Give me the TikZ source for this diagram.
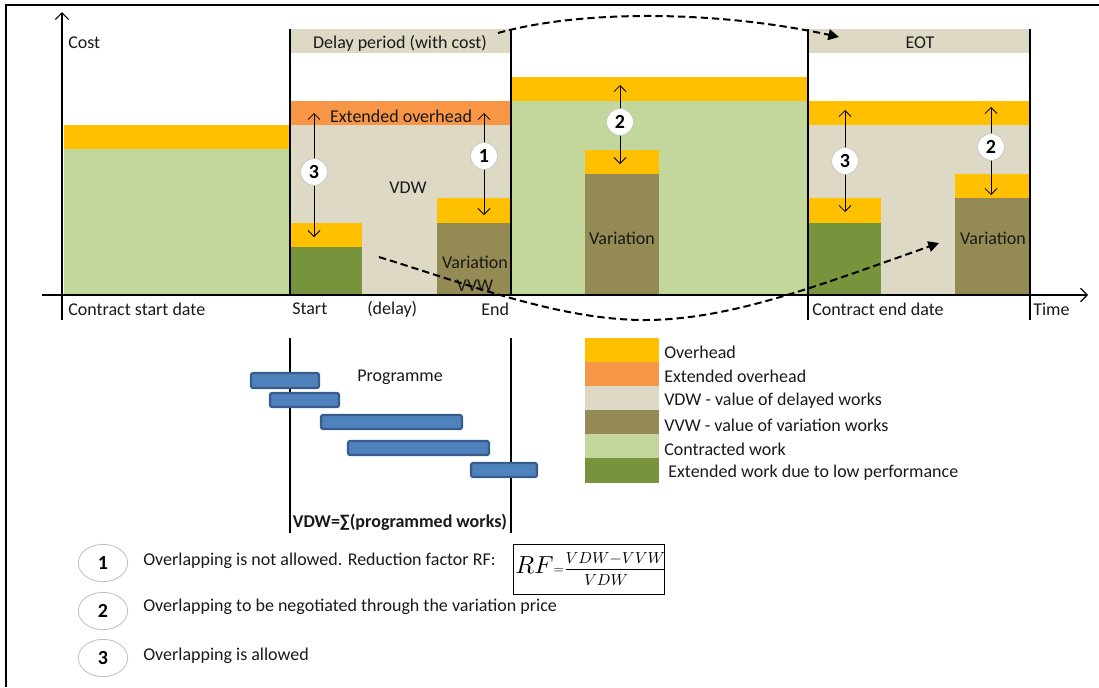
\documentclass[tikz,border=0pt]{standalone}
\usepackage{amsmath}
\usepackage{fontspec}
\setmainfont{Carlito}
\usetikzlibrary{arrows.meta,shapes.geometric}
\definecolor{ovh}{HTML}{FFC000}
\definecolor{extovh}{HTML}{F79646}
\definecolor{vdw}{HTML}{DDD9C4}
\definecolor{vvw}{HTML}{948A54}
\definecolor{contr}{HTML}{C3D69B}
\definecolor{extw}{HTML}{77933C}
\definecolor{barfill}{HTML}{4F81BD}
\definecolor{barline}{HTML}{385D8A}
\begin{document}
\begin{tikzpicture}[x=0.75pt,y=-0.75pt,
  lbl/.style={font=\fontsize{13.5}{15}\selectfont, inner sep=0pt, text=black!90},
  lblw/.style={lbl, anchor=west},
  thickline/.style={line width=2.2pt},
  axisline/.style={line width=0.9pt, -{Straight Barb[length=5pt,width=10pt]}},
  dbl/.style={line width=0.6pt, {Straight Barb[length=4.5pt,width=9pt]}-{Straight Barb[length=4.5pt,width=9pt]}},
  numc/.style={circle, draw=black!25, fill=white, minimum size=20pt, inner sep=0pt, font=\bfseries\fontsize{15}{15}\selectfont},
  nume/.style={ellipse, draw=black!25, line width=0.6pt, fill=white, minimum width=37pt, minimum height=28pt, inner sep=0pt, font=\bfseries\fontsize{15}{15}\selectfont},
  dashcurve/.style={line width=1.5pt, dash pattern=on 5.5pt off 3pt, -{Triangle[length=8pt,width=8pt]}},
  progbar/.style={draw=barline, fill=barfill, line width=1.6pt, rounded corners=1.5pt}
]
\useasboundingbox (0,0) rectangle (1099,687);
% frame (top and left)
\draw[line width=2.2pt] (6,687) -- (6,5) -- (1099,5);

% ---------- fills ----------
% contract section
\fill[ovh] (64,125) rectangle (290,149);
\fill[contr] (64,149) rectangle (290,295);
% delay section
\fill[vdw] (290,29) rectangle (511,53);
\fill[extovh] (290,101) rectangle (511,125);
\fill[vdw] (290,125) rectangle (511,295);
\fill[ovh] (290,223) rectangle (362,247);
\fill[extw] (290,247) rectangle (362,295);
\fill[ovh] (437,198) rectangle (511,223);
\fill[vvw] (437,223) rectangle (511,295);
% middle section
\fill[ovh] (511,77) rectangle (808,101);
\fill[contr] (511,101) rectangle (808,295);
\fill[ovh] (585,150) rectangle (659,174);
\fill[vvw] (585,174) rectangle (659,295);
% EOT section
\fill[vdw] (808,29) rectangle (1030,53);
\fill[ovh] (808,101) rectangle (1030,125);
\fill[vdw] (808,125) rectangle (1030,295);
\fill[ovh] (808,198) rectangle (881,223);
\fill[extw] (808,223) rectangle (881,295);
\fill[ovh] (955,174) rectangle (1030,198);
\fill[vvw] (955,198) rectangle (1030,295);

% ---------- axes ----------
\coordinate (yb) at (62,320);
\coordinate (yt) at (62,12);
\coordinate (xl) at (42,295);
\coordinate (xr) at (1088,295);
\draw[axisline] (yb) -- (yt);
\draw[axisline] (xl) -- (xr);

% ---------- vertical lines ----------
\coordinate (s1) at (290,29); \coordinate (s2) at (290,296);
\coordinate (e1) at (511,29); \coordinate (e2) at (511,296);
\coordinate (c1) at (808,29); \coordinate (c2) at (808,320);
\coordinate (t1) at (1030,29); \coordinate (t2) at (1030,320);
\draw[thickline] (s1) -- (s2);
\draw[thickline] (e1) -- (e2);
\draw[thickline] (c1) -- (c2);
\draw[thickline] (t1) -- (t2);

% ---------- texts in chart ----------
\node[lblw] (cost) at (68,43) {Cost};
\node[lbl] (delayp) at (400,43) {Delay period (with cost)};
\node[lbl] (eot) at (920,43) {EOT};
\node[lbl] (extov) at (401,116) {Extended overhead};
\node[lbl] (vdwt) at (408,188) {VDW};
\node[lbl] (var1) at (475,262) {Variation};
\node[lbl] (vvwt) at (475,286) {VVW};
\node[lbl] (var2) at (622,238) {Variation};
\node[lbl] (var3) at (993,238) {Variation};
\node[lblw] (csd) at (68,309) {Contract start date};
\node[lblw] (st) at (292,309) {Start};
\node[lblw] (dl) at (367,309) {(delay)};
\node[lblw] (en) at (481,309) {End};
\node[lblw] (ced) at (812,309) {Contract end date};
\node[lblw] (tm) at (1033,309) {Time};

% ---------- dashed curves ----------
\coordinate (d1s) at (498,33);
\coordinate (d1e) at (839,37);
\draw[dashcurve] (d1s) .. controls (580,10) and (715,10) .. (d1e);
\coordinate (d2s) at (379,257);
\coordinate (d2m) at (645,320);
\coordinate (d2e) at (939,243);
\draw[dashcurve] (d2s) .. controls (470,285) and (560,320) .. (d2m) .. controls (730,320) and (820,285) .. (d2e);

% ---------- double arrows with numbers ----------
\coordinate (a3t) at (314,113); \coordinate (a3b) at (314,237);
\draw[dbl] (a3t) -- (a3b);
\node[numc] (n3a) at (314,172) {3};
\coordinate (a1t) at (484,113); \coordinate (a1b) at (484,215);
\draw[dbl] (a1t) -- (a1b);
\node[numc] (n1a) at (484,156) {1};
\coordinate (a2t) at (620,85); \coordinate (a2b) at (620,164);
\draw[dbl] (a2t) -- (a2b);
\node[numc] (n2a) at (620,122) {2};
\coordinate (a4t) at (845,110); \coordinate (a4b) at (845,212);
\draw[dbl] (a4t) -- (a4b);
\node[numc] (n3b) at (845,161) {3};
\coordinate (a5t) at (991,107); \coordinate (a5b) at (991,195);
\draw[dbl] (a5t) -- (a5b);
\node[numc] (n2b) at (991,147) {2};

% ---------- programme ----------
\coordinate (p1) at (290,338); \coordinate (p2) at (290,533);
\coordinate (p3) at (511,338); \coordinate (p4) at (511,533);
\draw[line width=1.5pt] (p1) -- (p2);
\draw[line width=1.5pt] (p3) -- (p4);
\draw[progbar] (251,373) rectangle (319,388);
\draw[progbar] (270,393) rectangle (339,407);
\draw[progbar] (321,415) rectangle (462,429);
\draw[progbar] (348,441) rectangle (489,455);
\draw[progbar] (471,463) rectangle (537,477);
\node[lbl] (prog) at (400,377) {Programme};
\node[lbl, font=\bfseries\fontsize{13.5}{15}\selectfont] (vdwsum) at (400,522) {VDW=∑(programmed works)};

% ---------- legend ----------
\fill[ovh] (585,338) rectangle (659,362);
\fill[extovh] (585,362) rectangle (659,386);
\fill[vdw] (585,386) rectangle (659,410);
\fill[vvw] (585,410) rectangle (659,434);
\fill[contr] (585,434) rectangle (659,458);
\fill[extw] (585,458) rectangle (659,483);
\node[lblw] (lg1) at (664,352) {Overhead};
\node[lblw] (lg2) at (664,376) {Extended overhead};
\node[lblw] (lg3) at (664,401) {VDW - value of delayed works};
\node[lblw] (lg4) at (664,425) {VVW - value of variation works};
\node[lblw] (lg5) at (664,449) {Contracted work};
\node[lblw] (lg6) at (668,473) {Extended work due to low performance};

% ---------- notes ----------
\node[nume] (b1) at (103,563) {1};
\node[nume] (b2) at (103,611) {2};
\node[nume] (b3) at (103,658) {3};
\node[lblw] (t1n) at (143,561) {Overlapping is not allowed. Reduction factor RF:};
\node[lblw] (t2n) at (143,607) {Overlapping to be negotiated through the variation price};
\node[lblw] (t3n) at (143,656) {Overlapping is allowed};
\draw[line width=0.6pt] (513,544) rectangle (664,594);
\node[inner sep=0pt] (rf) at (591,569) {$\scalebox{1.85}{$RF$}{=}\genfrac{}{}{1.1pt}{0}{\scalebox{1.2}{$VDW{-}VVW$}}{\scalebox{1.2}{$VDW$}}$};
\end{tikzpicture}
\end{document}
